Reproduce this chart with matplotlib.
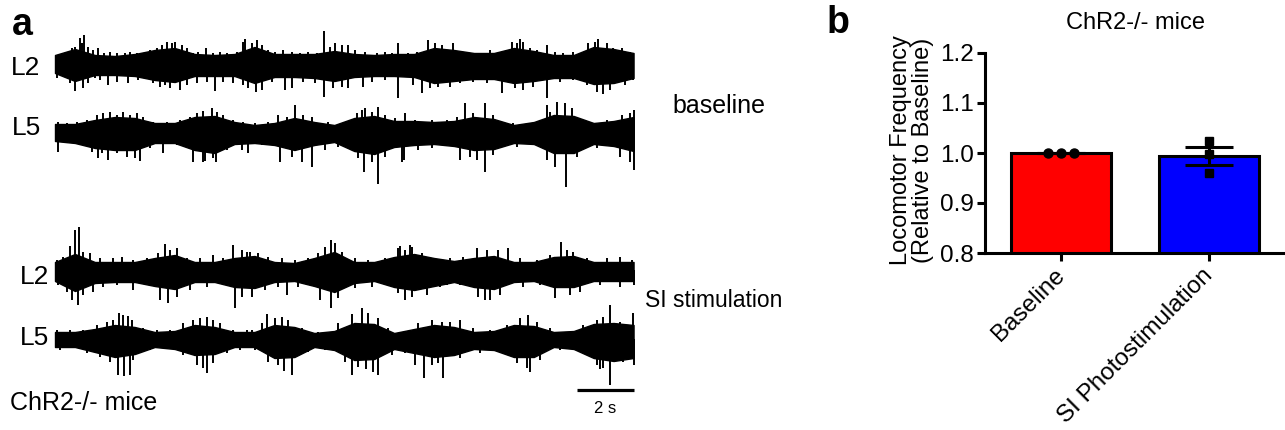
import numpy as np
import matplotlib
matplotlib.use('Agg')
import matplotlib.pyplot as plt
import matplotlib.transforms as mtrans

plt.rcParams['font.family'] = ['Liberation Sans', 'DejaVu Sans']

# ---- panel a: LFP traces (amplitude in a.u., time in s)
# solid core of each trace, sampled every 0.7 s
t_env = [0.0, 0.7, 1.4, 2.1, 2.8, 3.5, 4.2, 4.9, 5.6, 6.3, 7.0, 7.7, 8.4, 9.1, 9.8,
         10.5, 11.2, 11.9, 12.6, 13.3, 14.0, 14.7, 15.4, 16.1, 16.8, 17.5, 18.2, 18.9, 19.6, 20.3]

base_L2_up = [9, 15, 9, 8, 10, 14, 16, 10, 9, 10, 17, 10, 10, 10, 13, 10, 9, 10, 10, 16, 14, 11, 11, 16, 13, 9, 9, 17, 15, 11]
base_L2_dn = [9, 17, 11, 11, 12, 16, 18, 12, 12, 12, 19, 13, 13, 14, 17, 13, 12, 12, 13, 19, 17, 15, 15, 19, 17, 14, 14, 20, 19, 14]
base_L5_up = [8, 8, 12, 15, 14, 9, 9, 15, 16, 10, 7, 9, 14, 10, 7, 14, 16, 11, 11, 10, 11, 15, 13, 7, 10, 17, 16, 9, 11, 15]
base_L5_dn = [9, 11, 16, 18, 18, 11, 11, 18, 21, 12, 11, 13, 18, 13, 10, 19, 22, 15, 13, 12, 14, 18, 17, 11, 12, 21, 21, 12, 14, 19]
stim_L2_up = [8, 16, 8, 8, 8, 12, 15, 8, 8, 12, 14, 8, 7, 12, 18, 8, 8, 13, 16, 12, 9, 12, 14, 8, 8, 13, 14, 8, 8, 8]
stim_L2_dn = [11, 21, 13, 12, 12, 16, 19, 12, 12, 17, 18, 12, 11, 16, 22, 13, 11, 17, 20, 16, 12, 17, 19, 12, 11, 17, 17, 11, 11, 11]
stim_L5_up = [7, 7, 10, 14, 12, 7, 8, 14, 12, 7, 7, 14, 12, 6, 8, 16, 15, 6, 10, 14, 12, 7, 8, 14, 13, 7, 8, 15, 16, 14]
stim_L5_dn = [8, 8, 13, 18, 15, 8, 10, 16, 15, 8, 8, 19, 18, 8, 11, 21, 20, 10, 14, 18, 16, 10, 11, 18, 18, 8, 10, 19, 22, 19]

# deflections sticking out of the core: upward (top) and downward (bot)
base_L2_top_t = [0.18, 0.41, 0.58, 0.70, 0.88, 0.94, 1.02, 1.17, 1.35, 1.52, 1.71, 1.93, 2.16, 2.46, 2.63, 2.87, 3.10,
                 3.33, 3.57, 3.74, 3.92, 4.09, 4.21, 4.44, 4.62, 4.85, 5.03, 5.30, 5.56, 5.79, 6.02, 6.37, 6.61, 6.67,
                 6.90, 7.08, 7.25, 7.49, 7.72, 8.01, 8.30, 8.60, 8.89, 9.18, 9.44, 9.65, 9.82, 10.06, 10.29, 10.53,
                 10.88, 11.29, 11.58, 11.81, 12.04, 12.40, 12.69, 13.10, 13.33, 13.57, 13.74, 13.98, 14.44, 14.91,
                 15.26, 15.61, 16.04, 16.20, 16.32, 16.43, 16.67, 16.90, 17.25, 17.54, 17.84, 18.19, 18.48, 18.71,
                 18.95, 19.05, 19.36, 19.59, 19.88, 20.18]
base_L2_top_a = [9, 12, 16, 17, 26, 21, 29, 17, 14, 16, 11, 12, 11, 11, 12, 11, 11,
                 14, 16, 19, 22, 21, 22, 19, 16, 11, 12, 16, 11, 12, 11, 12, 22, 25,
                 21, 24, 19, 14, 12, 14, 12, 11, 12, 11, 33, 17, 21, 19, 19, 14,
                 12, 11, 12, 11, 21, 11, 12, 24, 21, 19, 14, 21, 12, 11,
                 14, 12, 22, 21, 25, 22, 16, 14, 19, 12, 11, 12, 11, 21,
                 22, 25, 21, 16, 16, 12]
base_L2_bot_t = [0.06, 0.35, 0.53, 0.70, 0.99, 1.17, 1.40, 1.58, 1.87, 2.16, 2.57, 2.92, 3.22, 3.45, 3.68, 3.86, 4.04,
                 4.39, 4.62, 4.97, 5.32, 5.61, 5.91, 6.26, 6.61, 6.78, 7.05, 7.25, 7.60, 8.07, 8.30, 8.71, 9.12, 9.44,
                 9.77, 10.06, 10.29, 10.82, 11.11, 11.58, 12.04, 12.57, 12.87, 13.16, 13.45, 13.86, 14.21, 14.68,
                 15.15, 15.68, 16.14, 16.43, 16.78, 17.26, 17.72, 18.19, 18.65, 19.01, 19.23, 19.47, 20.0, 20.29]
base_L2_bot_a = [14, 11, 19, 27, 24, 19, 14, 16, 21, 18, 19, 16, 14, 19, 23, 21, 24,
                 26, 21, 19, 18, 27, 18, 19, 21, 24, 28, 26, 18, 26, 24, 18, 19, 33,
                 24, 23, 24, 23, 18, 16, 34, 21, 29, 24, 23, 23, 19, 18,
                 19, 29, 24, 26, 23, 34, 18, 16, 21, 28, 30, 26, 21, 16]

base_L5_top_t = [0.12, 0.41, 0.76, 1.11, 1.46, 1.70, 1.93, 2.16, 2.40, 2.63, 2.87, 3.10, 3.45, 3.92, 4.39, 4.74, 4.97,
                 5.20, 5.51, 5.67, 5.91, 6.26, 6.61, 7.02, 7.49, 7.84, 8.13, 8.42, 8.71, 9.01, 9.59, 10.18, 10.58,
                 10.77, 10.88, 11.11, 11.33, 11.58, 11.93, 12.28, 12.63, 13.22, 13.57, 13.74, 14.09, 14.39, 14.68,
                 15.09, 15.38, 16.08, 16.67, 17.26, 17.37, 17.61, 17.89, 18.13, 18.77, 19.36, 19.88, 20.18, 20.3]
base_L5_top_a = [10, 9, 10, 12, 17, 19, 20, 17, 20, 17, 19, 15, 10, 10, 12, 15, 19,
                 21, 24, 20, 17, 12, 10, 9, 10, 17, 15, 27, 17, 15, 10, 10, 19,
                 22, 24, 20, 25, 17, 14, 19, 12, 12, 10, 12, 15, 29, 19,
                 29, 17, 9, 9, 27, 20, 30, 29, 24, 10, 12, 17, 19, 22]
base_L5_bot_t = [0.12, 0.53, 0.88, 1.29, 1.51, 1.64, 1.86, 2.16, 2.52, 2.81, 2.98, 3.33, 3.80, 4.27, 4.85, 5.20, 5.26,
                 5.56, 5.65, 6.02, 6.55, 6.78, 7.25, 7.89, 8.30, 8.65, 9.02, 9.47, 9.94, 10.64, 10.84, 11.12, 11.33,
                 11.58, 12.16, 12.25, 12.75, 13.22, 13.86, 14.21, 14.56, 14.79, 15.09, 15.38, 16.20, 17.25, 17.54,
                 17.93, 18.31, 19.01, 19.82, 20.18, 20.3]
base_L5_bot_a = [20, 11, 13, 20, 26, 21, 28, 21, 25, 26, 29, 16, 21, 13, 30, 30, 29,
                 26, 30, 18, 18, 21, 13, 30, 25, 30, 35, 18, 15, 26, 40, 30, 52,
                 25, 30, 28, 18, 16, 13, 28, 25, 28, 40, 23, 15, 28, 35,
                 55, 25, 16, 25, 30, 38]

stim_L2_top_t = [0.06, 0.29, 0.53, 0.70, 0.84, 0.99, 1.23, 1.58, 2.05, 2.34, 2.75, 3.22, 3.63, 3.86, 4.04, 4.27, 4.62,
                 5.09, 5.56, 5.91, 6.25, 6.55, 6.73, 6.84, 7.13, 7.49, 7.95, 8.42, 8.89, 9.24, 9.47, 9.68, 9.82,
                 10.06, 10.53, 10.99, 11.58, 12.04, 12.11, 12.28, 12.46, 12.52, 12.87, 13.33, 13.86, 14.33, 14.81,
                 15.15, 15.55, 15.89, 16.32, 16.90, 17.37, 17.75, 17.95, 18.19, 18.65, 19.36, 19.82, 20.23]
stim_L2_top_a = [10, 13, 24, 40, 43, 18, 17, 12, 12, 13, 10, 12, 17, 26, 20, 22, 12,
                 12, 15, 12, 25, 20, 18, 18, 17, 13, 12, 10, 12, 17, 23, 30, 27,
                 18, 12, 10, 12, 22, 24, 20, 25, 23, 17, 12, 12, 13, 22,
                 20, 20, 22, 12, 10, 15, 28, 20, 18, 12, 12, 13, 10]
stim_L2_bot_t = [0.12, 0.41, 0.60, 0.81, 0.99, 1.35, 1.70, 2.16, 2.75, 3.33, 3.68, 3.96, 4.27, 4.74, 5.32, 5.91, 6.32,
                 6.55, 6.90, 7.37, 7.84, 8.13, 8.54, 9.30, 9.68, 9.94, 10.53, 11.11, 12.04, 12.28, 12.52, 13.04,
                 13.51, 13.74, 14.21, 14.85, 15.09, 15.26, 15.61, 16.43, 17.02, 17.54, 18.07, 18.42, 19.12, 19.82, 20.3]
stim_L2_bot_a = [15, 22, 30, 35, 25, 22, 17, 15, 20, 15, 30, 33, 27, 20, 17, 15, 38,
                 27, 27, 20, 17, 25, 17, 30, 38, 28, 18, 17, 23, 30, 27, 25,
                 17, 15, 15, 27, 30, 30, 25, 17, 15, 28, 25, 22, 15, 17, 15]

stim_L5_top_t = [0.06, 0.53, 0.99, 1.46, 1.81, 2.05, 2.25, 2.40, 2.56, 2.69, 3.10, 3.57, 4.04, 4.50, 4.85, 5.09, 5.33,
                 5.56, 5.79, 6.26, 6.73, 6.90, 7.25, 7.44, 7.72, 7.95, 8.19, 8.65, 9.24, 9.94, 10.42, 10.77, 10.99,
                 11.34, 11.70, 12.16, 12.75, 13.22, 13.57, 13.86, 14.21, 14.68, 15.26, 15.85, 16.32, 16.60, 16.90,
                 17.37, 17.95, 18.54, 19.01, 19.24, 19.47, 19.82, 20.29]
stim_L5_top_a = [9, 9, 9, 14, 17, 19, 26, 24, 23, 19, 11, 9, 9, 16, 19, 21, 22,
                 19, 16, 9, 9, 9, 16, 25, 21, 22, 19, 11, 7, 16, 25, 31, 26,
                 21, 11, 7, 16, 19, 17, 17, 19, 11, 9, 14, 21, 24, 17,
                 11, 7, 14, 19, 22, 34, 17, 26]
stim_L5_bot_t = [0.18, 0.64, 1.11, 1.58, 1.93, 2.21, 2.42, 2.63, 2.75, 3.33, 3.80, 4.50, 4.97, 5.20, 5.33, 5.56, 6.02,
                 6.49, 7.02, 7.49, 7.84, 8.04, 8.32, 8.89, 9.47, 10.18, 10.42, 10.64, 10.91, 11.17, 11.33, 11.81,
                 12.28, 12.63, 12.95, 13.22, 13.45, 13.61, 14.21, 14.91, 15.61, 16.20, 16.55, 16.67, 17.02, 17.72,
                 18.42, 19.01, 19.12, 19.24, 19.47, 19.94, 20.3]
stim_L5_bot_a = [11, 9, 14, 18, 23, 36, 37, 36, 21, 11, 9, 16, 26, 29, 34, 24, 14,
                 11, 11, 23, 26, 32, 36, 13, 11, 23, 36, 28, 30, 33, 36, 16,
                 14, 26, 39, 26, 24, 39, 19, 14, 11, 24, 29, 33, 21, 11,
                 13, 26, 30, 29, 46, 23, 26]

# vertical offset of each trace (layout)
traces = [
    (base_L2_up, base_L2_dn, base_L2_top_t, base_L2_top_a, base_L2_bot_t, base_L2_bot_a, 366),
    (base_L5_up, base_L5_dn, base_L5_top_t, base_L5_top_a, base_L5_bot_t, base_L5_bot_a, 298),
    (stim_L2_up, stim_L2_dn, stim_L2_top_t, stim_L2_top_a, stim_L2_bot_t, stim_L2_bot_a, 160),
    (stim_L5_up, stim_L5_dn, stim_L5_top_t, stim_L5_top_a, stim_L5_bot_t, stim_L5_bot_a, 91),
]

# ---- panel b: locomotor frequency
groups = ['Baseline', 'SI Photostimulation']
base_pts = [1.0, 1.0, 1.0]
stim_pts = [1.024, 0.998, 0.960]

W, H = 1285, 430
fig = plt.figure(figsize=(W / 100, H / 100), dpi=100)

ax_a = fig.add_axes([0, 0, 660 / W, 1])
for up, dn, tt, ta, bt, ba, off in traces:
    assert len(tt) == len(ta) and len(bt) == len(ba)
    ax_a.fill_between(t_env, off - np.array(dn), off + np.array(up), color='black', lw=1.0)
    ax_a.vlines(tt, off, off + np.array(ta), color='black', lw=1.4)
    ax_a.vlines(bt, off, off - np.array(ba), color='black', lw=1.4)
ax_a.plot([18.3, 20.3], [40, 40], color='black', lw=2.3, solid_capstyle='butt')
ax_a.text(19.3, 17, '2 s', ha='center', va='baseline', fontsize=12)
ax_a.set_xlim(-55 / 28.5, 605 / 28.5)
ax_a.set_ylim(0, 430)
ax_a.axis('off')


def fx(px):
    return px / W


def fy(py):
    return 1 - py / H


fig.text(fx(12), fy(35), 'a', fontsize=27, fontweight='bold', va='baseline')
fig.text(fx(11), fy(75), 'L2', fontsize=19, va='baseline')
fig.text(fx(12), fy(135), 'L5', fontsize=19, va='baseline')
fig.text(fx(20), fy(284), 'L2', fontsize=19, va='baseline')
fig.text(fx(20), fy(345), 'L5', fontsize=19, va='baseline')
fig.text(fx(10), fy(410), 'ChR2-/- mice', fontsize=18, va='baseline')
fig.text(fx(672), fy(113), 'baseline', fontsize=18, va='baseline')
fig.text(fx(645), fy(307), 'SI stimulation', fontsize=16.5, va='baseline')

ax_b = fig.add_axes([fx(985), fy(253), 298 / W, 200 / H])
means = [np.mean(base_pts), np.mean(stim_pts)]
sems = [np.std(base_pts, ddof=1) / np.sqrt(len(base_pts)),
        np.std(stim_pts, ddof=1) / np.sqrt(len(stim_pts))]
ax_b.bar([0, 1], means, width=0.676, color=['#ff0000', '#0000ff'], edgecolor='black',
         linewidth=2.2, zorder=2)
ax_b.errorbar([0, 1], means, yerr=sems, fmt='none', ecolor='black', elinewidth=2.2,
              capsize=17, capthick=2.2, zorder=3)
ax_b.plot([-0.085, 0, 0.085], base_pts, 'o', color='black', ms=6.5, zorder=4)
ax_b.plot([1, 1, 1], stim_pts, 's', color='black', ms=6, zorder=4)
ax_b.set_xlim(-0.514, 1.5)
ax_b.set_ylim(0.8, 1.2)
ax_b.set_yticks([0.8, 0.9, 1.0, 1.1, 1.2])
ax_b.set_yticklabels(['0.8', '0.9', '1.0', '1.1', '1.2'])
ax_b.set_xticks([0, 1])
ax_b.set_xticklabels(groups, rotation=45, ha='right', rotation_mode='anchor')
ax_b.tick_params(labelsize=17.5, length=6, width=2.2, pad=2)
# nudge the slanted labels a little to the left, as in the original
shift = mtrans.ScaledTranslation(-7 / 100, 0, fig.dpi_scale_trans)
for lab in ax_b.get_xticklabels():
    lab.set_transform(lab.get_transform() + shift)
for s in ['top', 'right']:
    ax_b.spines[s].set_visible(False)
for s in ['left', 'bottom']:
    ax_b.spines[s].set_linewidth(2.2)
fig.text(fx(1135), fy(29), 'ChR2-/- mice', fontsize=17, ha='center', va='baseline')
fig.text(fx(912), fy(150), 'Locomotor Frequency\n(Relative to Baseline)', rotation=90,
         ha='center', va='center', fontsize=17, linespacing=1.05)
fig.text(fx(827), fy(33), 'b', fontsize=27, fontweight='bold', va='baseline')

fig.savefig('out.png', dpi=100)
